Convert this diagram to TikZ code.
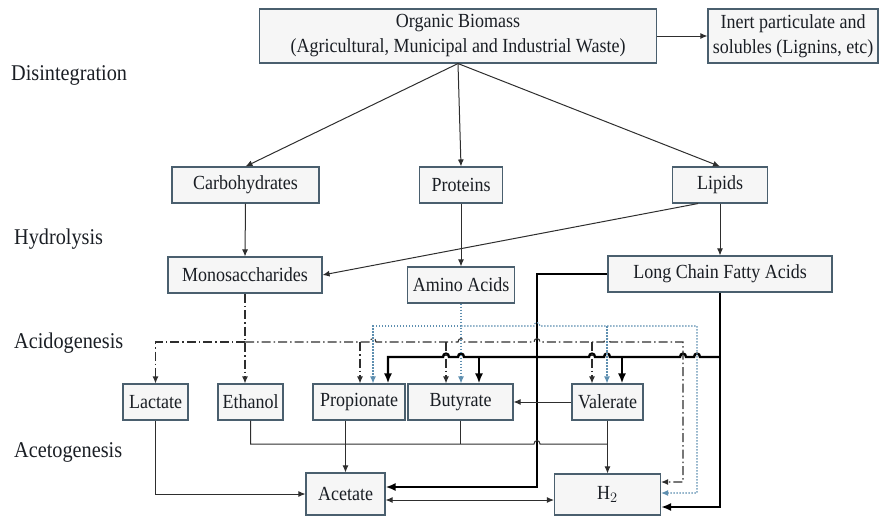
\documentclass[tikz,border=0pt]{standalone}
\usepackage{fontspec}
\setmainfont{Liberation Serif}[FakeStretch=0.9]
\usetikzlibrary{arrows.meta}
\definecolor{boxc}{HTML}{4A5F6E}
\definecolor{boxf}{HTML}{F6F6F6}
\definecolor{linec}{HTML}{2E2E2E}
\definecolor{dotc}{HTML}{5E8FB0}
\definecolor{txtc}{HTML}{1A1E24}
\begin{document}
\begin{tikzpicture}[x=1pt,y=-1pt,
  box/.style={draw=boxc, fill=boxf, line width=1.1pt, inner sep=0pt, align=center,
    font=\fontsize{20}{25}\selectfont, text=txtc},
  lbl/.style={anchor=west, inner sep=0pt, font=\fontsize{22.5}{24}\selectfont, text=txtc},
  conn/.style={draw=linec, line width=1pt},
  arr/.style={conn, -{Latex[length=7pt,width=6pt]}},
  dbl/.style={conn, {Latex[length=7pt,width=6pt]}-{Latex[length=7pt,width=6pt]}},
  thk/.style={draw=black, line width=2.4pt},
  tarr/.style={thk, -{Latex[length=10pt,width=8pt]}},
  dd/.style={draw=linec, line width=1.1pt, dash pattern=on 9pt off 3pt on 1.5pt off 3pt},
  ddarr/.style={dd, -{Latex[length=7pt,width=6pt]}},
  dt/.style={draw=dotc, line width=1.1pt, dash pattern=on 1.5pt off 1.5pt},
  dtarr/.style={dt, -{Latex[length=7pt,width=6pt]}},
  humpR/.style args={#1/#2}{insert path={-- ({#1-3},#2) .. controls ({#1-3},{#2-4.5}) and ({#1+3},{#2-4.5}) .. ({#1+3},#2)}},
  humpL/.style args={#1/#2}{insert path={-- ({#1+3},#2) .. controls ({#1+3},{#2-4.5}) and ({#1-3},{#2-4.5}) .. ({#1-3},#2)}},
]
\useasboundingbox (0,0) rectangle (880,517);

% stage labels
\node[lbl] (l1) at (11,75) {Disintegration};
\node[lbl] (l2) at (14,239) {Hydrolysis};
\node[lbl] (l3) at (14,343) {Acidogenesis};
\node[lbl] (l4) at (14,452) {Acetogenesis};

% boxes
\node[box, minimum width=397pt, minimum height=54pt] (org) at (458,36) {Organic Biomass\\(Agricultural, Municipal and Industrial Waste)};
\node[box, minimum width=170pt, minimum height=54pt] (inert) at (793,36) {Inert particulate and\\solubles (Lignins, etc)};
\node[box, minimum width=147pt, minimum height=36pt] (carb) at (245.5,185) {Carbohydrates};
\node[box, minimum width=83pt, minimum height=36pt] (prot) at (461,185) {Proteins};
\node[box, minimum width=95pt, minimum height=36pt] (lip) at (720,185) {Lipids};
\node[box, minimum width=154pt, minimum height=36pt] (mono) at (245,275) {Monosaccharides};
\node[box, minimum width=107pt, minimum height=36pt] (amino) at (461,285) {Amino Acids};
\node[box, minimum width=224pt, minimum height=36pt] (lcfa) at (720,274) {Long Chain Fatty Acids};
\node[box, minimum width=65pt, minimum height=36pt] (lact) at (155.5,402) {Lactate};
\node[box, minimum width=65pt, minimum height=36pt] (eth) at (250.5,402) {Ethanol};
\node[box, minimum width=92pt, minimum height=36pt] (prop) at (359,402) {Propionate};
\node[box, minimum width=105pt, minimum height=36pt] (but) at (460.5,402) {Butyrate};
\node[box, minimum width=71pt, minimum height=36pt] (val) at (607.5,402) {Valerate};
\node[box, minimum width=79pt, minimum height=42pt] (acet) at (345.5,494) {Acetate};
\node[box, minimum width=106pt, minimum height=41pt] (h2) at (607.5,494.5) {H$_2$};

% disintegration
\draw[arr] (org.east) -- (inert.west);
\draw[arr] (org.south) -- (carb.north);
\draw[arr] (org.south) -- (prot.north);
\draw[arr] (org.south) -- (lip.north);

% hydrolysis
\draw[arr] (carb.south) -- (mono.north);
\draw[arr] (prot.south) -- (amino.north);
\draw[arr] (lip.south) -- (lcfa.north);
\draw[arr] ([xshift=-22pt]lip.south) -- (mono.east);

% coordinates
\coordinate (ta) at (537,487);
\coordinate (bR) at (720,357);
\coordinate (hR) at (720,507);
\coordinate (bp) at (388,357);
\coordinate (bb) at (479,357);
\coordinate (bv) at (622,357);
\coordinate (dA) at (245,342);
\coordinate (d1) at (360,342);
\coordinate (d2) at (446,342);
\coordinate (d3) at (592,342);
\coordinate (dR) at (683,482);
\coordinate (tA) at (461,326);
\coordinate (tL) at (373,326);
\coordinate (t2) at (607,326);
\coordinate (tR) at (697,493);
\coordinate (eR) at (607,444);
\coordinate (ah) at (470,500);

% LCFA thick paths
\draw[tarr] (lcfa.west) -| (ta) -- (ta -| acet.east);
\draw[tarr] (lcfa.south) -- (hR) -- (hR -| h2.east);
\draw[tarr] (bR) [humpL=697/357] [humpL=683/357] [humpL=607/357] [humpL=592/357] [humpL=461/357] [humpL=446/357] -- (bp) -- (bp |- prop.north);
\draw[tarr] (bb) -- (bb |- but.north);
\draw[tarr] (bv) -- (bv |- val.north);

% monosaccharides (dash-dot)
\draw[ddarr] (mono.south) -- (mono.south |- eth.north);
\draw[ddarr] (dA) -| (lact.north);
\draw[ddarr] (dA) [humpR=373/342] [humpR=461/342] [humpR=537/342] [humpR=607/342] -- (dR |- dA) -- (dR) -- (dR -| h2.east);
\draw[ddarr] (d1) -- (d1 |- prop.north);
\draw[ddarr] (d2) -- (d2 |- but.north);
\draw[ddarr] (d3) -- (d3 |- val.north);

% amino acids (dotted)
\draw[dtarr] (amino.south) -- (amino.south |- but.north);
\draw[dtarr] (tA) -- (tL) -- (tL |- prop.north);
\draw[dtarr] (tA) [humpR=537/326] -- (tR |- tA) -- (tR) -- (tR -| h2.east);
\draw[dtarr] (t2) -- (t2 |- val.north);

% acetogenesis
\draw[arr] (val.west) -- (but.east);
\draw[arr] (lact.south) |- (acet.west);
\draw[arr] (acet.north |- prop.south) -- (acet.north);
\draw[conn] (eth.south) -- (eth.south |- eR) [humpR=537/444] -- (eR);
\draw[conn] (but.south) -- (but.south |- eR);
\draw[arr] (val.south) -- (h2.north);
\draw[dbl] (ah -| acet.east) -- (ah -| h2.west);
\end{tikzpicture}
\end{document}
